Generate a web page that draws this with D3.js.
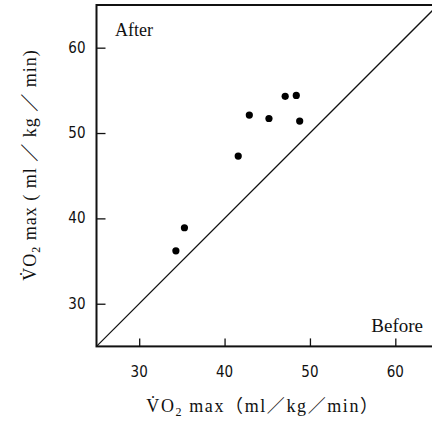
<!DOCTYPE html>
<html>
<head>
<meta charset="utf-8">
<script src="https://cdn.jsdelivr.net/npm/d3@7"></script>
<style>
  body { margin: 0; background: #fff; }
  svg { display: block; }
</style>
</head>
<body>
<script>
var width = 432,
    height = 424

// before / after VO2 max (ml/kg/min)
var before = [34.3, 35.3, 41.6, 42.9, 45.2, 47.1, 48.4, 48.8]
var after  = [36.2, 38.9, 47.3, 52.1, 51.7, 54.3, 54.4, 51.4]
var ticks  = [30, 40, 50, 60]
var domain = [25, 65]

var margin = ({top: 5, left: 96.5, bottom: 77.6})

var svg = d3.select("body").append("svg")
    .attr("width", width)
    .attr("height", height)

var x = d3.scaleLinear()
    .domain(domain)
    .range([margin.left, margin.left + 341.5])

var y = d3.scaleLinear()
    .domain(domain)
    .range([height - margin.bottom, margin.top])

var numFont = "'Liberation Sans Narrow', 'DejaVu Sans Condensed', 'Liberation Sans', sans-serif"
var serif = "'Liberation Serif', 'DejaVu Serif', 'Noto Sans CJK JP', serif"

// frame
svg.append("rect")
    .attr("x", x(domain[0]))
    .attr("y", y(domain[1]))
    .attr("width", x(domain[1]) - x(domain[0]))
    .attr("height", y(domain[0]) - y(domain[1]))
    .attr("fill", "none")
    .attr("stroke", "#111")
    .attr("stroke-width", 2)

// x axis, ticks pointing inwards
svg.append("g")
    .attr("transform", `translate(0,${y(domain[0])})`)
    .call(d3.axisTop(x).tickValues(ticks).tickSize(8).tickFormat(""))
    .call(g => g.select(".domain").remove())
    .call(g => g.selectAll("line").attr("stroke", "#111").attr("stroke-width", 1.3))

svg.append("g").selectAll("text")
  .data(ticks).enter()
  .append("text")
    .attr("x", d => x(d))
    .attr("y", y(domain[0]) + 31)
    .attr("text-anchor", "middle")
    .style("font", "15px " + numFont)
    .attr("fill", "#111")
    .text(d => d)

// y axis
svg.append("g")
    .attr("transform", `translate(${x(domain[0])},0)`)
    .call(d3.axisRight(y).tickValues(ticks).tickSize(9).tickFormat(""))
    .call(g => g.select(".domain").remove())
    .call(g => g.selectAll("line").attr("stroke", "#111").attr("stroke-width", 1.3))

svg.append("g").selectAll("text")
  .data(ticks).enter()
  .append("text")
    .attr("x", x(domain[0]) - 11)
    .attr("y", d => y(d) + 5)
    .attr("text-anchor", "end")
    .style("font", "15px " + numFont)
    .attr("fill", "#111")
    .text(d => d)

// line of identity
svg.append("line")
    .attr("x1", x(domain[0]))
    .attr("y1", y(domain[0]))
    .attr("x2", x(domain[1]))
    .attr("y2", y(domain[1]))
    .attr("stroke", "#111")
    .attr("stroke-width", 1.3)

// points
svg.append("g").selectAll("circle")
  .data(before.map((b, i) => ({b: b, a: after[i]}))).enter()
  .append("circle")
    .attr("cx", d => x(d.b))
    .attr("cy", d => y(d.a))
    .attr("r", 3.6)
    .attr("fill", "#000")

svg.append("text")
    .attr("x", 115)
    .attr("y", 36)
    .style("font", "18px " + serif)
    .attr("fill", "#111")
    .text("After")

svg.append("text")
    .attr("x", 423)
    .attr("y", 332)
    .attr("text-anchor", "end")
    .style("font", "19px " + serif)
    .attr("fill", "#111")
    .text("Before")

// axis titles
function vo2(t, rest, ls) {
  t.style("font", "18px " + serif).style("letter-spacing", ls).attr("fill", "#111")
  t.append("tspan").text("V\u0307O")
  t.append("tspan").attr("dy", 4).style("font-size", "12px").text("2")
  t.append("tspan").attr("dy", -4).text(rest)
}

svg.append("text")
    .attr("x", 263)
    .attr("y", 412)
    .attr("text-anchor", "middle")
    .call(vo2, "\u00a0max\uff08ml\uff0fkg\uff0fmin\uff09", "1.6px")

svg.append("text")
    .attr("transform", "translate(36,165) rotate(-90)")
    .attr("text-anchor", "middle")
    .call(vo2, "\u00a0max ( ml \uff0f kg \uff0f min)", "1px")
</script>
</body>
</html>
